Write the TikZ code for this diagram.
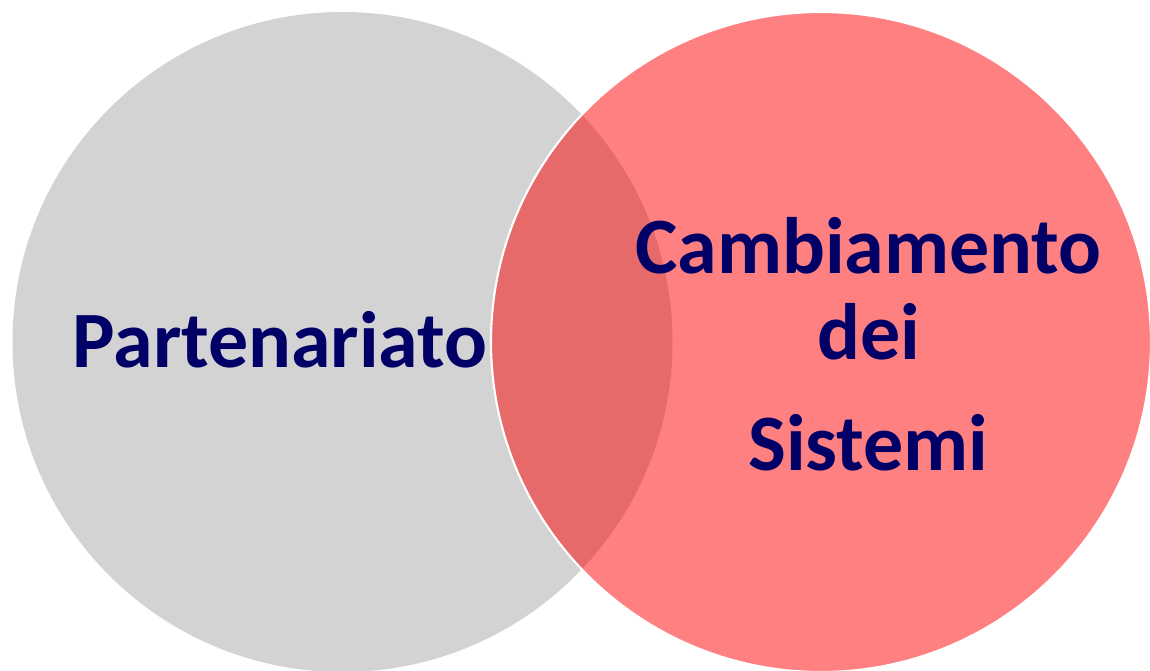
\documentclass[tikz,border=0pt]{standalone}
\usepackage{fontspec}
\setmainfont{Carlito}
\usepackage{xcolor}
\usepackage{tikz}

\definecolor{setgray}{HTML}{D3D3D3}
\definecolor{setred}{HTML}{FF8080}
\definecolor{setmix}{HTML}{E66A6A}
\definecolor{setnavy}{HTML}{000066}

\begin{document}
\begin{tikzpicture}
			\tikzstyle{set} = [circle, minimum size=13.2cm, inner sep=0pt]
			\tikzstyle{label} = [text=setnavy, font=\bfseries\fontsize{45.5}{49}\selectfont, align=center]
			
			\useasboundingbox (0,0) rectangle (23,-13.42);
			
			\node[set, fill=setgray](partner) at (6.85,-6.84) {};
			\node[set, fill=setred](change) at (16.42,-6.84) {};
			\begin{scope}
				\clip (6.85,-6.84) circle (6.6);
				\fill[setmix] (16.42,-6.84) circle (6.6);
			\end{scope}
			\draw[white, line width=1.2pt] (16.42,-6.84) circle (6.6);
			
			\node[label](partnertext) at (5.6,-6.8) {Partenariato};
			\node[label](changetext) at (17.37,-6.88) {Cambiamento\\ dei\\[14pt] Sistemi};
			
			\end{tikzpicture}
\end{document}
